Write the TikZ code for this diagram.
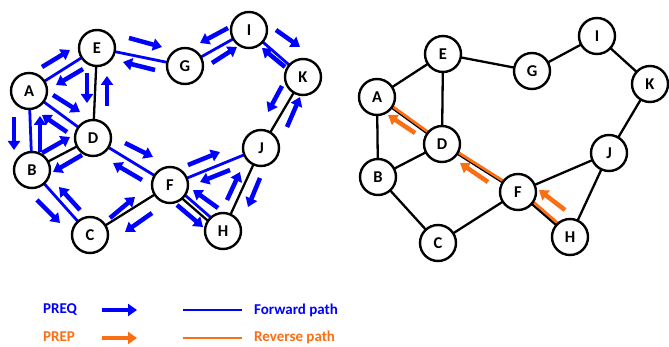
\documentclass[tikz,border=0pt]{standalone}
\usepackage{fontspec}
\setmainfont{Carlito}
\usetikzlibrary{arrows.meta,calc}
\definecolor{pblue}{RGB}{0,0,255}
\definecolor{porange}{RGB}{250,110,20}
\begin{document}
\begin{tikzpicture}[x=1pt,y=-1pt,
 vtx/.style={circle,draw=black,line width=2.4pt,fill=white,minimum size=36pt,inner sep=0pt,font=\bfseries\fontsize{16.5}{16.5}\selectfont},
 edge/.style={line width=2.3pt,black},
 fwd/.style={line width=2.8pt,pblue},
 rev/.style={line width=2.8pt,porange},
 barr/.style={pblue,line width=4.5pt,-{Triangle[length=9pt,width=12pt]}},
 oarr/.style={porange,line width=4.5pt,-{Triangle[length=9pt,width=12pt]}},
 lgd/.style={font=\bfseries\fontsize{15}{15}\selectfont,anchor=west,inner sep=0pt}]
\useasboundingbox (0,0) rectangle (669,347);

% ---------- left graph: node positions ----------
\coordinate (pA) at (29,91);
\coordinate (pE) at (97,48);
\coordinate (pD) at (93,138);
\coordinate (pB) at (32,170);
\coordinate (pC) at (90,235);
\coordinate (pF) at (170,185);
\coordinate (pH) at (223,231);
\coordinate (pJ) at (261,148);
\coordinate (pK) at (303,77);
\coordinate (pI) at (249,30);
\coordinate (pG) at (185,66);

% black edges
\draw[edge] (pE) -- (pD);
\draw[edge] (pB) -- (pD);
\draw[edge] (pC) -- (pF);
\draw[edge] (pJ) -- (pH);
\draw[edge] (pK) -- (pJ);
\draw[edge] ($(pF)!2.2pt!-90:(pH)$) -- ($(pH)!2.2pt!90:(pF)$);
% forward path (blue)
\draw[fwd] (pA) -- (pE);
\draw[fwd] (pA) -- (pB);
\draw[fwd] (pA) -- (pD);
\draw[fwd] (pE) -- (pG);
\draw[fwd] (pG) -- (pI);
\draw[fwd] (pI) -- (pK);
\draw[fwd] (pD) -- (pF);
\draw[fwd] (pB) -- (pC);
\draw[fwd] (pF) -- (pJ);
\draw[fwd] ($(pF)!2.2pt!90:(pH)$) -- ($(pH)!2.2pt!-90:(pF)$);

\foreach \n in {A,B,C,D,E,F,G,H,I,J,K}
  \node[vtx] (L\n) at (p\n) {\n};

% PREQ arrows
\foreach \xa/\ya/\xb/\yb in {
  42/67/70/50, 83/69/56/85, 87/73/87/103, 107/106/107/76,
  53/95/80/112, 67/132/42/115, 14/117/14/150, 40/152/40/116,
  42/153/70/137, 82/155/53/172, 37/200/60/223, 80/210/59/187,
  110/218/135/197, 152/213/125/232, 125/143/153/157, 142/180/113/163,
  188/165/220/152, 230/170/200/182, 177/205/203/227, 218/208/193/190,
  227/200/240/172, 260/178/248/207, 282/86/268/112, 287/127/300/97,
  228/28/200/43, 212/63/237/47, 276/30/300/47, 285/67/262/48,
  129/38/162/47, 155/70/123/62}
  \draw[barr] (\xa,\ya) -- (\xb,\yb);

% ---------- right graph ----------
\begin{scope}[shift={(347,6)}]
\coordinate (qA) at (30,91);
\coordinate (qE) at (96,48);
\coordinate (qD) at (95,138);
\coordinate (qB) at (31,171);
\coordinate (qC) at (91,237);
\coordinate (qF) at (171,186);
\coordinate (qH) at (223,231);
\coordinate (qJ) at (262,147);
\coordinate (qK) at (303,78);
\coordinate (qI) at (250,30);
\coordinate (qG) at (185,65);
\end{scope}

\foreach \u/\v in {A/E,A/B,A/D,B/D,B/C,C/F,D/E,D/F,E/G,G/I,I/K,K/J,J/F,J/H,F/H}
  \draw[edge] (q\u) -- (q\v);
\draw[rev] ($(qA)!1.5pt!90:(qD)$) -- ($(qD)!1.5pt!-90:(qA)$);
\draw[rev] ($(qD)!1.5pt!90:(qF)$) -- ($(qF)!1.5pt!-90:(qD)$);
\draw[rev] ($(qF)!2.5pt!90:(qH)$) -- ($(qH)!2.5pt!-90:(qF)$);

\foreach \n in {A,B,C,D,E,F,G,H,I,J,K}
  \node[vtx] (R\n) at (q\n) {\n};

% PREP arrows
\foreach \xa/\ya/\xb/\yb in {415/133/388/115, 488/182/460/163, 565/210/539/190}
  \draw[oarr] (\xa,\ya) -- (\xb,\yb);

% ---------- legend ----------
\node[lgd,text=pblue] (t1) at (43,310) {PREQ};
\coordinate (a1s) at (102,310);
\coordinate (a1e) at (137,310);
\draw[barr] (a1s) -- (a1e);
\coordinate (l1s) at (183,310);
\coordinate (l1e) at (242,310);
\draw[fwd] (l1s) -- (l1e);
\node[lgd,text=pblue] (t2) at (254,310) {Forward path};

\node[lgd,text=porange] (t3) at (43,337) {PREP};
\coordinate (a2s) at (102,338);
\coordinate (a2e) at (137,338);
\draw[oarr] (a2s) -- (a2e);
\coordinate (l2s) at (183,338);
\coordinate (l2e) at (242,338);
\draw[rev] (l2s) -- (l2e);
\node[lgd,text=porange] (t4) at (254,337) {Reverse path};
\end{tikzpicture}
\end{document}
